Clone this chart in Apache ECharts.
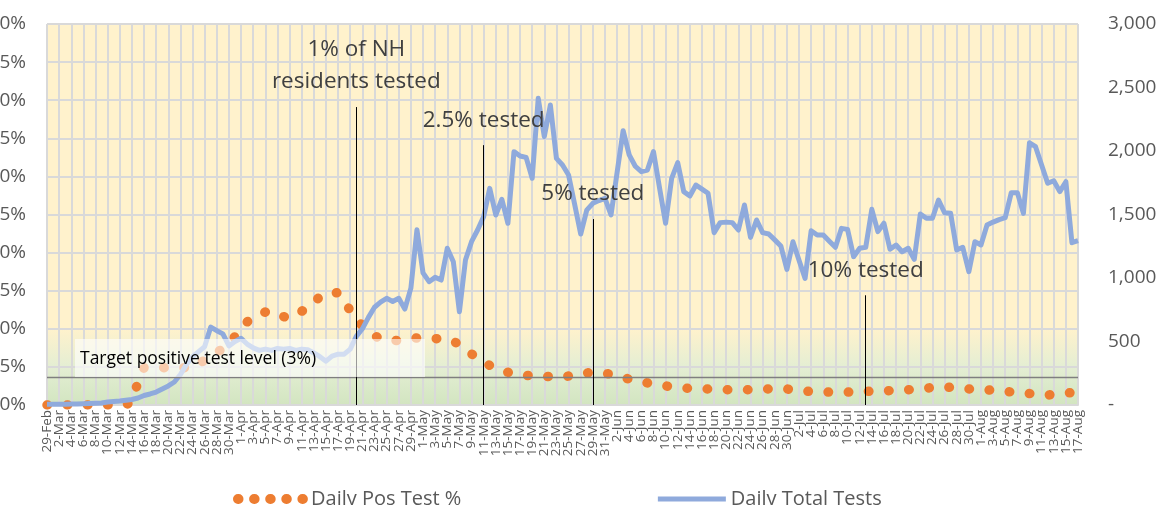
<!DOCTYPE html>
<html><head><meta charset="utf-8">
<script src="https://cdn.jsdelivr.net/npm/echarts@6/dist/echarts.min.js"></script>
<style>html,body{margin:0;padding:0;background:#fff;overflow:hidden}#c{width:1156px;height:505px}</style>
</head><body><div id="c"></div>
<script>
const categories = [
"29-Feb",
"1-Mar","2-Mar","3-Mar","4-Mar","5-Mar","6-Mar","7-Mar","8-Mar","9-Mar","10-Mar","11-Mar","12-Mar","13-Mar","14-Mar","15-Mar","16-Mar","17-Mar","18-Mar","19-Mar","20-Mar","21-Mar","22-Mar","23-Mar","24-Mar","25-Mar","26-Mar","27-Mar","28-Mar","29-Mar","30-Mar","31-Mar",
"1-Apr","2-Apr","3-Apr","4-Apr","5-Apr","6-Apr","7-Apr","8-Apr","9-Apr","10-Apr","11-Apr","12-Apr","13-Apr","14-Apr","15-Apr","16-Apr","17-Apr","18-Apr","19-Apr","20-Apr","21-Apr","22-Apr","23-Apr","24-Apr","25-Apr","26-Apr","27-Apr","28-Apr","29-Apr","30-Apr",
"1-May","2-May","3-May","4-May","5-May","6-May","7-May","8-May","9-May","10-May","11-May","12-May","13-May","14-May","15-May","16-May","17-May","18-May","19-May","20-May","21-May","22-May","23-May","24-May","25-May","26-May","27-May","28-May","29-May","30-May","31-May",
"1-Jun","2-Jun","3-Jun","4-Jun","5-Jun","6-Jun","7-Jun","8-Jun","9-Jun","10-Jun","11-Jun","12-Jun","13-Jun","14-Jun","15-Jun","16-Jun","17-Jun","18-Jun","19-Jun","20-Jun","21-Jun","22-Jun","23-Jun","24-Jun","25-Jun","26-Jun","27-Jun","28-Jun","29-Jun","30-Jun",
"1-Jul","2-Jul","3-Jul","4-Jul","5-Jul","6-Jul","7-Jul","8-Jul","9-Jul","10-Jul","11-Jul","12-Jul","13-Jul","14-Jul","15-Jul","16-Jul","17-Jul","18-Jul","19-Jul","20-Jul","21-Jul","22-Jul","23-Jul","24-Jul","25-Jul","26-Jul","27-Jul","28-Jul","29-Jul","30-Jul","31-Jul",
"1-Aug","2-Aug","3-Aug","4-Aug","5-Aug","6-Aug","7-Aug","8-Aug","9-Aug","10-Aug","11-Aug","12-Aug","13-Aug","14-Aug","15-Aug","16-Aug","17-Aug"
];

// Daily positive test %
const posPct = [
0,0,0,0,0,0,0,0,0,0,
0,0,0,0,0.5,3.0,4.9,4.9,4.9,4.9,
4.9,4.9,4.9,4.9,4.9,5.4,5.9,6.4,6.9,7.4,
8.0,9.0,10.0,10.9,11.5,11.9,12.2,12.3,12.0,11.6,
11.4,11.8,12.3,12.8,13.5,14.2,14.6,14.8,14.7,13.6,
12.4,11.3,10.4,9.7,9.1,8.7,8.5,8.4,8.5,8.6,
8.7,8.8,8.8,8.7,8.7,8.7,8.7,8.4,7.9,7.3,
6.7,6.2,5.6,5.2,4.8,4.5,4.3,4.1,3.9,3.9,
3.8,3.8,3.8,3.7,3.7,3.7,3.8,4.0,4.2,4.2,
4.3,4.3,4.2,4.0,3.8,3.6,3.4,3.2,3.0,2.9,
2.7,2.6,2.5,2.4,2.3,2.2,2.2,2.1,2.1,2.1,
2.0,2.0,2.0,2.0,2.0,2.0,2.0,2.1,2.1,2.1,
2.1,2.1,2.1,2.0,1.9,1.8,1.8,1.7,1.7,1.7,
1.7,1.7,1.7,1.7,1.8,1.8,1.8,1.8,1.8,1.9,
1.9,2.0,2.0,2.1,2.2,2.2,2.3,2.4,2.4,2.3,
2.3,2.2,2.1,2.1,2.0,2.0,1.9,1.9,1.8,1.7,
1.7,1.6,1.5,1.4,1.4,1.3,1.4,1.5,1.6,1.6,
1.6
];

// Daily total tests
const totalTests = [
5,5,6,6,8,8,10,12,14,16,
24,28,32,38,43,55,75,87,102,126,
150,181,240,320,380,420,460,614,585,560,
465,500,525,480,450,430,440,430,445,440,
445,430,440,435,410,380,345,385,400,400,
440,540,600,690,770,810,840,815,840,755,
920,1380,1040,971,1005,984,1234,1128,735,1142,
1286,1378,1483,1706,1496,1620,1431,1995,1961,1950,
1785,2415,2113,2362,1942,1890,1811,1580,1346,1535,
1588,1610,1627,1496,1830,2160,1969,1880,1837,1850,
1995,1710,1431,1785,1908,1680,1646,1732,1700,1667,
1357,1436,1440,1436,1378,1575,1320,1457,1357,1346,
1300,1252,1068,1286,1140,997,1372,1339,1339,1290,
1242,1391,1383,1168,1234,1242,1541,1365,1431,1226,
1260,1207,1234,1147,1504,1470,1470,1614,1514,1509,
1220,1242,1050,1286,1260,1417,1440,1460,1475,1672,
1672,1509,2065,2034,1890,1746,1766,1680,1758,1278,
1294
];

const seriesNames = ["Daily Pos Test %", "Daily Total Tests"];
const targetLevel = 3.6;           // drawn target line (labelled 3%)
const targetText = "Target positive test level (3%)";
const milestoneDates  = ["20-Apr", "11-May", "29-May", "13-Jul"];
const milestoneTops   = [39.1, 34.1, 24.4, 14.4];
const milestoneLabels = ["1% of NH\nresidents tested", "2.5% tested", "5% tested", "10% tested"];

const FONT = "Open Sans";
const chart = echarts.init(document.getElementById('c'), null, {renderer: 'canvas'});

const milestoneLines = milestoneDates.map((d, i) => [
  {coord: [d, 0],
   lineStyle: {color: '#000000', width: 1, type: 'solid'},
   label: {show: true, position: 'end', formatter: milestoneLabels[i],
     distance: i === 0 ? 9 : 13, fontSize: 22.5, color: '#404040', fontFamily: FONT,
     lineHeight: i === 0 ? 32 : 24, align: 'center'}},
  {coord: [d, milestoneTops[i]]}
]);

const hiddenSymbol = {color: 'rgba(0,0,0,0)', borderColor: 'rgba(0,0,0,0)', borderWidth: 0, opacity: 0};

chart.setOption({
  animation: false,
  textStyle: {fontFamily: FONT},
  grid: {
    left: 47, right: 78, top: 24, bottom: 100, show: true, borderWidth: 0,
    containLabel: false, outerBoundsMode: 'none',
    backgroundColor: new echarts.graphic.LinearGradient(0, 0, 0, 1, [
      {offset: 0, color: '#FFF2CC'}, {offset: 0.8, color: '#FFF2CC'},
      {offset: 0.9, color: '#E4EED3'}, {offset: 1, color: '#D2E5C0'}
    ])
  },
  legend: {
    left: 228, top: 484, itemGap: 194, itemWidth: 68, itemHeight: 14,
    textStyle: {fontSize: 20, color: '#595959', fontFamily: FONT},
    data: [
      {name: seriesNames[0], itemStyle: hiddenSymbol,
       lineStyle: {color: '#ED7D31', width: 10, type: [0.5, 15.6], cap: 'round'}},
      {name: seriesNames[1], itemStyle: hiddenSymbol,
       lineStyle: {color: '#8FAADC', width: 5}}
    ]
  },
  xAxis: {
    type: 'category', data: categories, boundaryGap: false,
    axisLine: {show: true, lineStyle: {color: '#D9D9D9', width: 2}},
    axisTick: {show: false},
    axisLabel: {interval: 0, rotate: 90, fontSize: 13.5, color: '#595959', margin: 5, fontFamily: FONT,
      hideOverlap: false, formatter: (v, i) => (i % 2 === 0 ? v : '')},
    splitLine: {show: true, interval: 1, lineStyle: {color: '#D9D9D9', width: 2}}
  },
  yAxis: [
    {type: 'value', min: 0, max: 50, interval: 5,
     axisLine: {show: false}, axisTick: {show: false},
     axisLabel: {formatter: v => v + '%', fontSize: 19, color: '#595959', margin: 21, fontFamily: FONT},
     splitLine: {show: true, lineStyle: {color: '#D9D9D9', width: 2}}},
    {type: 'value', min: 0, max: 3000, interval: 500, position: 'right',
     axisLine: {show: false}, axisTick: {show: false}, splitLine: {show: false},
     axisLabel: {formatter: v => v === 0 ? '-' : v.toLocaleString('en-US'), fontSize: 19, color: '#595959',
       margin: 30, align: 'left', fontFamily: FONT}}
  ],
  series: [
    {name: seriesNames[0], type: 'line', yAxisIndex: 0, data: posPct, symbol: 'none', z: 3,
     lineStyle: {color: '#ED7D31', width: 9.5, type: [0.5, 19.7], cap: 'round'},
     itemStyle: {color: '#ED7D31'},
     markLine: {silent: true, symbol: 'none', animation: false, z: 5,
       lineStyle: {color: '#7F7F7F', width: 1.3, type: 'solid'}, label: {show: false},
       data: [{yAxis: targetLevel, label: {show: false}}].concat(milestoneLines)}},
    {name: seriesNames[1], type: 'line', yAxisIndex: 1, data: totalTests, symbol: 'none', z: 4,
     lineStyle: {color: '#8FAADC', width: 5, join: 'round'}, itemStyle: {color: '#8FAADC'}}
  ],
  graphic: [
    {type: 'rect', z: 100, shape: {x: 75, y: 339, width: 350, height: 38},
     style: {fill: 'rgba(255,255,255,0.6)'}},
    {type: 'text', z: 101, x: 80, y: 359,
     style: {text: targetText, fontSize: 17.5, fill: '#000000', fontFamily: FONT, textVerticalAlign: 'middle'}}
  ]
});
</script></body></html>
